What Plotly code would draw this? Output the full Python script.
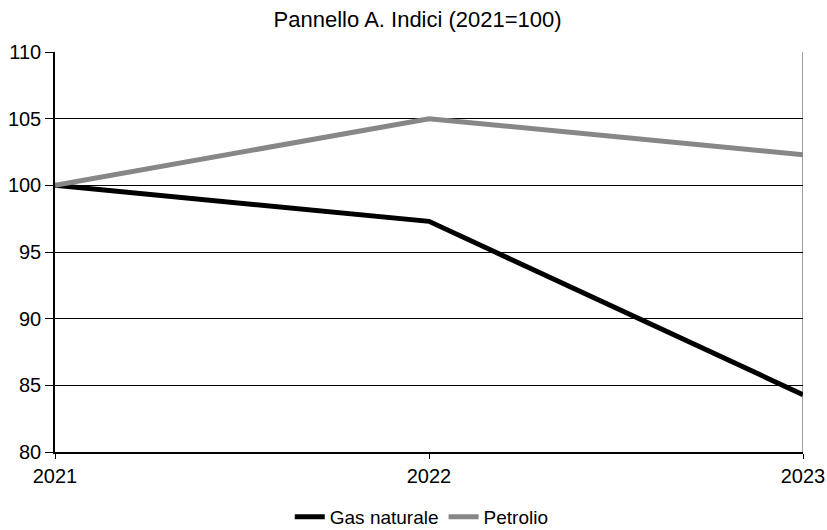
import plotly.graph_objects as go

years = ["2021", "2022", "2023"]
gas_naturale = [100, 97.3, 84.3]
petrolio = [100, 105, 102.3]
y_ticks = [80, 85, 90, 95, 100, 105, 110]

FONT = "Liberation Sans, Arial, sans-serif"

x_idx = list(range(len(years)))

fig = go.Figure()
fig.add_trace(go.Scatter(x=x_idx, y=gas_naturale, mode="lines", name="Gas naturale",
                         line=dict(color="#000000", width=5)))
fig.add_trace(go.Scatter(x=x_idx, y=petrolio, mode="lines", name="Petrolio",
                         line=dict(color="#878787", width=5)))

# right border of the plot area
fig.add_shape(type="line", xref="x", yref="y", x0=2, x1=2, y0=80, y1=110,
              line=dict(color="#808080", width=1.5), layer="below")

fig.update_layout(
    width=827, height=530,
    margin=dict(l=55, r=24, t=52, b=78),
    paper_bgcolor="white", plot_bgcolor="white",
    font=dict(family=FONT, size=20, color="#000000"),
    title=dict(text="Pannello A. Indici (2021=100)", x=0.505, xref="container",
               y=1 - 19 / 530, yref="container", yanchor="middle",
               font=dict(family=FONT, size=22)),
    showlegend=True,
    legend=dict(orientation="h", x=0.51, xref="container", xanchor="center",
                y=13 / 530, yref="container", yanchor="middle",
                font=dict(family=FONT, size=19), itemwidth=30, traceorder="normal"),
    xaxis=dict(range=[0, 2], tickvals=x_idx, ticktext=years, showgrid=False,
               zeroline=False, showline=True, linecolor="#000000", linewidth=1.5,
               ticks="outside", ticklen=5, tickcolor="#000000", automargin=False),
    yaxis=dict(range=[80, 110], tickvals=y_ticks, showgrid=True, gridcolor="#000000",
               gridwidth=1, zeroline=False, showline=True, linecolor="#000000",
               linewidth=1.5, ticks="outside", ticklen=8, tickcolor="#000000",
               automargin=False),
)

fig.write_html("out.html")
